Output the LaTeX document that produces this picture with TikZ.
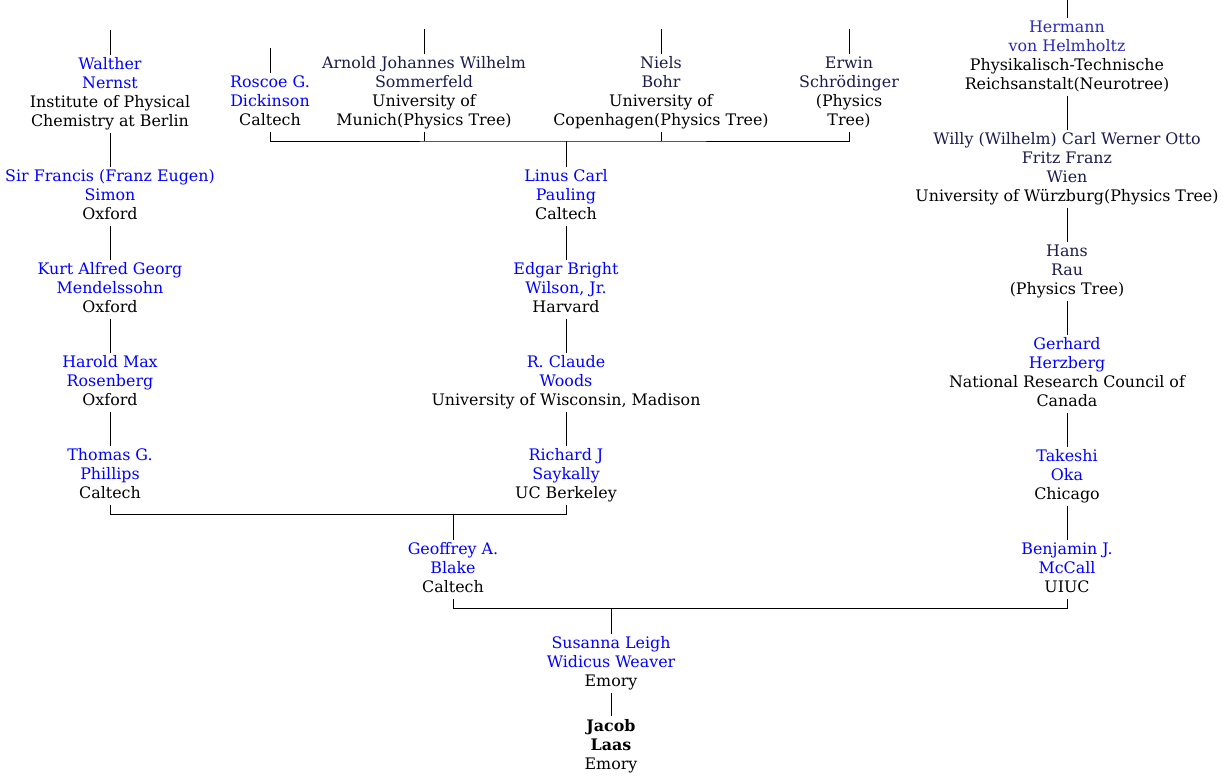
\documentclass[tikz,border=0pt]{standalone}
\usepackage{fontspec}
\setmainfont{DejaVu Serif}
\definecolor{nameblue}{HTML}{0000FF}
\definecolor{navy}{HTML}{1A1A4E}
\definecolor{midblue}{HTML}{2929B8}
\newcommand\nb[1]{\textcolor{nameblue}{#1}}
\newcommand\nv[1]{\textcolor{navy}{#1}}
\newcommand\nm[1]{\textcolor{midblue}{#1}}
\begin{document}
\begin{tikzpicture}[x=0.75pt,y=-0.75pt,
  person/.style={align=center,inner xsep=0pt,inner ysep=0.75pt,font=\fontsize{11.9}{14.25}\selectfont},
  link/.style={line width=0.75pt,black}]
\useasboundingbox (0,0) rectangle (1223,775);
% top row
\node[person] (walther) at (110,94.2) {\strut\nb{Walther}\\\nb{Nernst}\\Institute of Physical\\Chemistry at Berlin\strut};
\node[person] (roscoe) at (270,102.7) {\strut\nb{Roscoe G.}\\\nb{Dickinson}\\Caltech\strut};
\node[person] (arnold) at (424,93.2) {\strut\nv{Arnold Johannes Wilhelm}\\\nv{Sommerfeld}\\University of\\Munich(Physics Tree)\strut};
\node[person] (niels) at (661,93.2) {\strut\nv{Niels}\\\nv{Bohr}\\University of\\Copenhagen(Physics Tree)\strut};
\node[person] (erwin) at (849,93.2) {\strut\nv{Erwin}\\\nv{Schrödinger}\\(Physics\\Tree)\strut};
% right column
\node[person] (hermann) at (1067,57.2) {\strut\nm{Hermann}\\\nm{von Helmholtz}\\Physikalisch-Technische\\Reichsanstalt(Neurotree)\strut};
\node[person] (willy) at (1067,169.2) {\strut\nv{Willy (Wilhelm) Carl Werner Otto}\\\nv{Fritz Franz}\\\nv{Wien}\\University of Würzburg(Physics Tree)\strut};
\node[person] (hans) at (1067,271.7) {\strut\nv{Hans}\\\nv{Rau}\\(Physics Tree)\strut};
\node[person] (gerhard) at (1067,374.2) {\strut\nb{Gerhard}\\\nb{Herzberg}\\National Research Council of\\Canada\strut};
\node[person] (takeshi) at (1067,476.7) {\strut\nb{Takeshi}\\\nb{Oka}\\Chicago\strut};
\node[person] (mccall) at (1067,569.7) {\strut\nb{Benjamin J.}\\\nb{McCall}\\UIUC\strut};
% left column
\node[person] (simon) at (110,196.7) {\strut\nb{Sir Francis (Franz Eugen)}\\\nb{Simon}\\Oxford\strut};
\node[person] (mendelssohn) at (110,289.7) {\strut\nb{Kurt Alfred Georg}\\\nb{Mendelssohn}\\Oxford\strut};
\node[person] (rosenberg) at (110,382.7) {\strut\nb{Harold Max}\\\nb{Rosenberg}\\Oxford\strut};
\node[person] (phillips) at (110,475.7) {\strut\nb{Thomas G.}\\\nb{Phillips}\\Caltech\strut};
% middle column
\node[person] (pauling) at (566,196.7) {\strut\nb{Linus Carl}\\\nb{Pauling}\\Caltech\strut};
\node[person] (wilson) at (566,289.7) {\strut\nb{Edgar Bright}\\\nb{Wilson, Jr.}\\Harvard\strut};
\node[person] (woods) at (566,382.7) {\strut\nb{R. Claude}\\\nb{Woods}\\University of Wisconsin, Madison\strut};
\node[person] (saykally) at (566,475.7) {\strut\nb{Richard J}\\\nb{Saykally}\\UC Berkeley\strut};
% bottom
\node[person] (blake) at (453,569.7) {\strut\nb{Geoffrey A.}\\\nb{Blake}\\Caltech\strut};
\node[person] (weaver) at (611,663.7) {\strut\nb{Susanna Leigh}\\\nb{Widicus Weaver}\\Emory\strut};
\node[person] (laas) at (611,746.2) {\strut\textbf{Jacob}\\\textbf{Laas}\\Emory\strut};
% free ends and junctions
\coordinate (waltherTop) at (110,30);
\coordinate (roscoeTop) at (270,48);
\coordinate (arnoldTop) at (424,29);
\coordinate (nielsTop) at (661,29);
\coordinate (erwinTop) at (849,29);
\coordinate (hermannTop) at (1067,0);
\coordinate (jA) at (566,141);
\coordinate (jB) at (453,514);
\coordinate (jC) at (611,608);
% connectors
\draw[link] (waltherTop) -- (walther.north);
\draw[link] (roscoeTop) -- (roscoe.north);
\draw[link] (arnoldTop) -- (arnold.north);
\draw[link] (nielsTop) -- (niels.north);
\draw[link] (erwinTop) -- (erwin.north);
\draw[link] (hermannTop) -- (hermann.north);
\draw[link] (walther.south) -- (simon.north);
\draw[link] (simon.south) -- (mendelssohn.north);
\draw[link] (mendelssohn.south) -- (rosenberg.north);
\draw[link] (rosenberg.south) -- (phillips.north);
\draw[link] (roscoe.south) |- (jA) -| (erwin.south);
\draw[link] (arnold.south) -- (arnold.south |- jA);
\draw[link] (niels.south) -- (niels.south |- jA);
\draw[link] (jA) -- (pauling.north);
\draw[link] (pauling.south) -- (wilson.north);
\draw[link] (wilson.south) -- (woods.north);
\draw[link] (woods.south) -- (saykally.north);
\draw[link] (phillips.south) |- (jB) -| (saykally.south);
\draw[link] (jB) -- (blake.north);
\draw[link] (hermann.south) -- (willy.north);
\draw[link] (willy.south) -- (hans.north);
\draw[link] (hans.south) -- (gerhard.north);
\draw[link] (gerhard.south) -- (takeshi.north);
\draw[link] (takeshi.south) -- (mccall.north);
\draw[link] (blake.south) |- (jC) -| (mccall.south);
\draw[link] (jC) -- (weaver.north);
\draw[link] (weaver.south) -- (laas.north);
\end{tikzpicture}
\end{document}
